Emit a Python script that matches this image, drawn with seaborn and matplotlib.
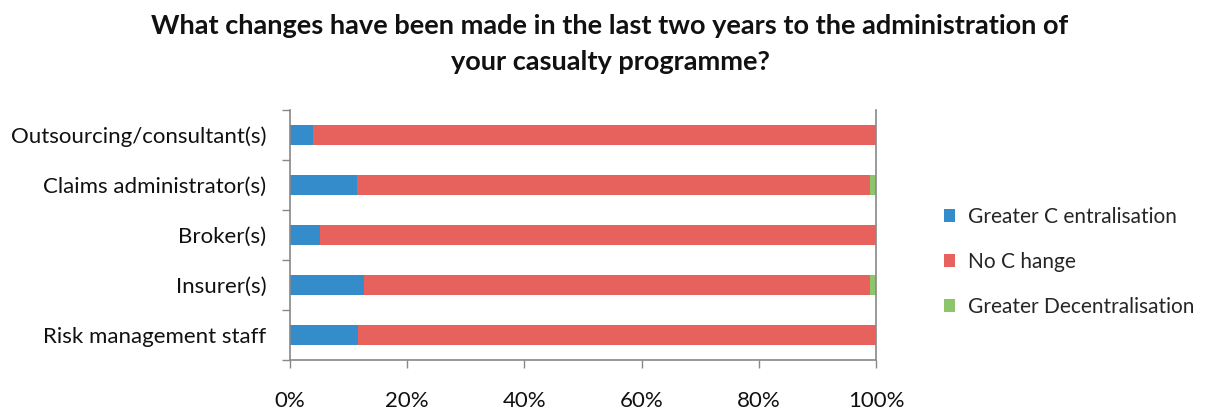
import matplotlib
matplotlib.use("Agg")
import matplotlib.pyplot as plt
import seaborn as sns
import pandas as pd
import numpy as np
from matplotlib.patches import Patch
from matplotlib.ticker import FixedLocator, PercentFormatter

# Survey responses (share of respondents, %)
categories = ["Outsourcing/consultant(s)", "Claims administrator(s)", "Broker(s)",
              "Insurer(s)", "Risk management staff"]
centralisation = [4.0, 11.4, 5.2, 12.6, 11.6]
no_change = [96.0, 87.5, 94.8, 86.3, 88.4]
decentralisation = [0.0, 1.1, 0.0, 1.1, 0.0]
series_names = ["Greater C entralisation", "No C hange", "Greater Decentralisation"]
colors = ["#358ccb", "#e8625d", "#8dc56b"]

title = "What changes have been made in the last two years to the administration of\nyour casualty programme?"

sns.set_theme(style="white")
plt.rcParams["font.family"] = ["Lato", "DejaVu Sans"]

df = pd.DataFrame({
    "category": categories,
    "c1": np.array(centralisation),
    "c2": np.array(centralisation) + np.array(no_change),
    "c3": np.array(centralisation) + np.array(no_change) + np.array(decentralisation),
})

fig = plt.figure(figsize=(12.09, 4.12), dpi=100)
ax = fig.add_axes([290 / 1209, 52 / 412, 586 / 1209, 250 / 412])

# stacked bars: draw cumulative totals back to front
for col, color in zip(["c3", "c2", "c1"], colors[::-1]):
    sns.barplot(data=df, x=col, y="category", order=categories, color=color,
                width=0.4, saturation=1, ax=ax, orient="h", linewidth=0)

ax.set_xlim(0, 100)
ax.set_ylim(len(categories) - 0.5, -0.5)
ax.set_xlabel("")
ax.set_ylabel("")
ax.xaxis.set_major_locator(FixedLocator([0, 20, 40, 60, 80, 100]))
ax.xaxis.set_major_formatter(PercentFormatter(decimals=0))

# category boundaries carry the y ticks
ax.set_yticks(np.arange(len(categories)))
ax.set_yticklabels(categories)
ax.yaxis.set_minor_locator(FixedLocator(np.arange(-0.5, len(categories), 1.0)))
ax.tick_params(axis="y", which="major", length=0, pad=17, labelsize=16, labelcolor="#111111")
ax.tick_params(axis="y", which="minor", left=True, length=6, width=1, color="#888888")
ax.tick_params(axis="x", which="major", bottom=True, length=6, width=1, color="#888888",
               pad=16, labelsize=16, labelcolor="#111111")

for side in ["left", "bottom", "right"]:
    ax.spines[side].set_visible(True)
    ax.spines[side].set_color("#888888")
    ax.spines[side].set_linewidth(1.2)
ax.spines["top"].set_visible(False)

fig.text(610 / 1209, 1 - 44 / 412, title, ha="center", va="center", fontsize=19.5,
         fontweight="bold", color="#111111", linespacing=1.6)

handles = [Patch(facecolor=c, edgecolor="none") for c in colors]
fig.legend(handles, series_names, loc="center left", bbox_to_anchor=(944 / 1209, 1 - 262 / 412),
           frameon=False, fontsize=15, handlelength=0.55, handleheight=0.55,
           handletextpad=0.6, labelspacing=1.2, borderpad=0, borderaxespad=0)

fig.savefig("out.png", dpi=100)
